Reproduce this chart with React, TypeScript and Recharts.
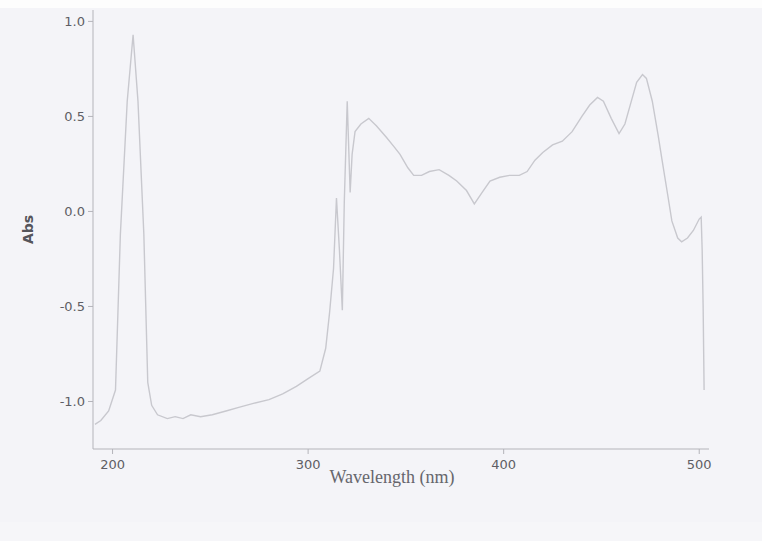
import React from 'react';
import { LineChart, Line, XAxis, YAxis } from 'recharts';

// Wavelength (nm)
const wavelengths = [
  191, 194, 198, 201.5, 204, 207.5, 210.5, 213, 216, 218, 220, 223, 228, 232, 236, 240, 245, 251, 258, 265,
  272, 280, 287, 294, 300, 306, 309, 311, 313, 314.5, 316, 317.5, 318.5, 320, 321.5, 322.5, 324, 327, 331, 335,
  340, 344, 347, 351, 354, 358, 362, 367, 372, 376, 381, 385, 389, 393, 398, 403, 408, 412, 416, 420,
  425, 430, 435, 440, 444, 448, 451, 455, 459, 462, 465, 468, 471, 473, 476, 479, 481, 484, 486, 489,
  491, 494, 497, 500, 501, 501.5, 502, 502.5,
];

// Absorbance at each wavelength
const absorbance = [
  -1.12, -1.1, -1.05, -0.94, -0.12, 0.58, 0.93, 0.58, -0.12, -0.9, -1.02, -1.07, -1.09, -1.08, -1.09, -1.07, -1.08, -1.07, -1.05, -1.03,
  -1.01, -0.99, -0.96, -0.92, -0.88, -0.84, -0.72, -0.53, -0.3, 0.07, -0.2, -0.52, 0.05, 0.58, 0.1, 0.3, 0.42, 0.46, 0.49, 0.45,
  0.39, 0.34, 0.3, 0.23, 0.19, 0.19, 0.21, 0.22, 0.19, 0.16, 0.11, 0.04, 0.1, 0.16, 0.18, 0.19, 0.19, 0.21, 0.27, 0.31,
  0.35, 0.37, 0.42, 0.5, 0.56, 0.6, 0.58, 0.49, 0.41, 0.46, 0.57, 0.68, 0.72, 0.7, 0.58, 0.4, 0.27, 0.08, -0.05, -0.14,
  -0.16, -0.14, -0.1, -0.04, -0.03, -0.2, -0.5, -0.94,
];

const xTicks = [200, 300, 400, 500];
const yTicks = [-1.0, -0.5, 0.0, 0.5, 1.0];

const spectrum = wavelengths.map((wl, i) => ({ wl, abs: absorbance[i] }));

const tickStyle = { fontFamily: 'DejaVu Sans, Verdana, sans-serif', fontSize: 13, fill: '#5e5e64' };

const App: React.FC = () => {
  return (
    <div
      style={{
        position: 'absolute',
        left: 0,
        top: 0,
        width: 762,
        height: 541,
        background: '#f4f4f8',
        overflow: 'hidden',
      }}
    >
      {/* scan edges */}
      <div style={{ position: 'absolute', left: 0, top: 0, width: 762, height: 8, background: '#fdfdfd' }} />
      <div style={{ position: 'absolute', left: 0, top: 522, width: 762, height: 19, background: '#f6f6f9' }} />

      <div style={{ position: 'absolute', left: 0, top: 0 }}>
        <LineChart
          width={762}
          height={541}
          data={spectrum}
          margin={{ top: 10, right: 53, bottom: 62, left: 33 }}
        >
          <XAxis
            dataKey="wl"
            type="number"
            domain={[190, 505]}
            ticks={xTicks}
            allowDataOverflow
            height={30}
            tickSize={5}
            tickMargin={6}
            stroke="#b4b4ba"
            tick={tickStyle}
            label={{
              value: 'Wavelength (nm)',
              position: 'bottom',
              offset: -9,
              dx: -9,
              style: { fontFamily: 'Liberation Serif, Times New Roman, serif', fontSize: 18, fill: '#66666c' },
            }}
          />
          <YAxis
            dataKey="abs"
            type="number"
            domain={[-1.25, 1.06]}
            ticks={yTicks}
            allowDataOverflow
            width={60}
            tickSize={5}
            tickMargin={3}
            stroke="#b4b4ba"
            tick={tickStyle}
            tickFormatter={(v: number) => v.toFixed(1)}
            label={{
              value: 'Abs',
              angle: -90,
              position: 'insideLeft',
              offset: -5,
              style: { fontFamily: 'DejaVu Sans, Verdana, sans-serif', fontSize: 14, fontWeight: 'bold', fill: '#55555b', textAnchor: 'middle' },
            }}
          />
          <Line
            type="linear"
            dataKey="abs"
            stroke="#c8c8ce"
            strokeWidth={1.4}
            dot={false}
            isAnimationActive={false}
          />
        </LineChart>
      </div>
    </div>
  );
};

export default App;
